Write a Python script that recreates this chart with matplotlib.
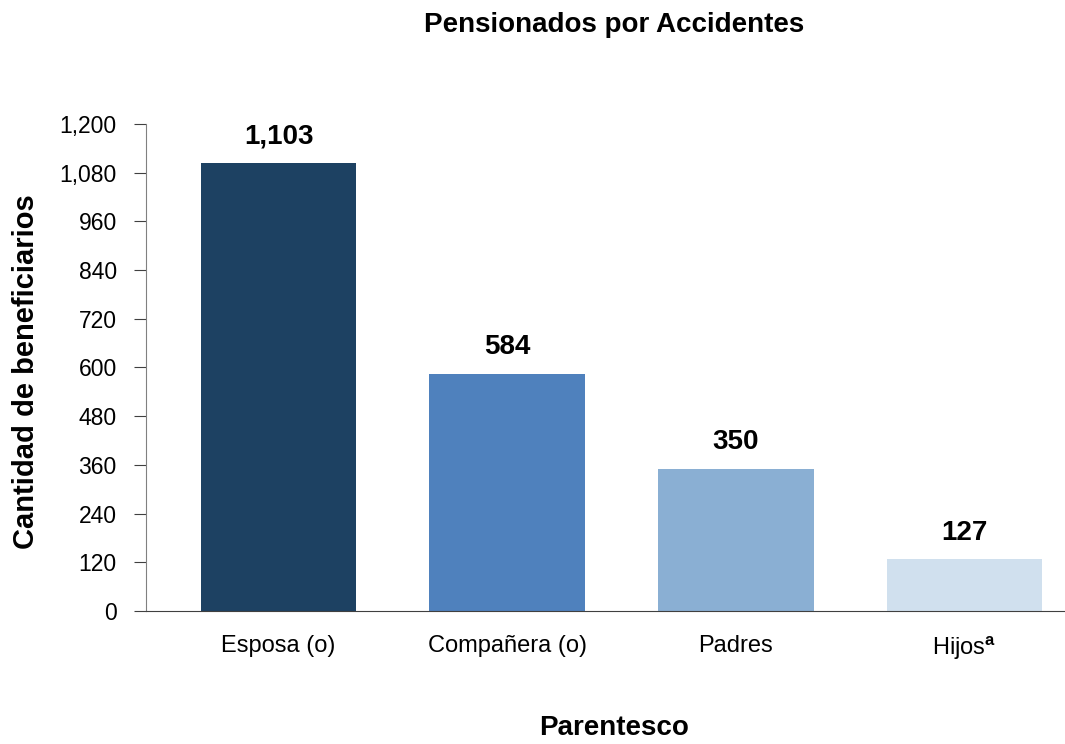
import matplotlib
matplotlib.use('Agg')
import matplotlib.pyplot as plt
import matplotlib.ticker as ticker

plt.rcParams['font.family'] = ['Liberation Sans', 'DejaVu Sans']
plt.rcParams['mathtext.fontset'] = 'custom'
plt.rcParams['mathtext.rm'] = 'Liberation Sans'
plt.rcParams['mathtext.bf'] = 'Liberation Sans:bold'

categorias = ['Esposa (o)', 'Compañera (o)', 'Padres', 'Hijos$^{\\mathbf{a}}$']
beneficiarios = [1103, 584, 350, 127]
etiquetas = ['1,103', '584', '350', '127']
colores = ['#1d4162', '#4f81bd', '#8aafd3', '#d0e0ee']

fig = plt.figure(figsize=(10.65, 7.44), dpi=100)
ax = fig.add_axes([0.137, 0.1788, 0.863, 0.6546])

x = list(range(len(categorias)))
ax.bar(x, beneficiarios, width=0.68, color=colores)

# etiquetas de valor sobre cada barra
for xi, v, t in zip(x, beneficiarios, etiquetas):
    ax.annotate(t, (xi, v), xytext=(0, 10), textcoords='offset points',
                ha='center', va='bottom', fontsize=20, fontweight='bold')

ax.set_xlim(-0.58, 3.44)
ax.set_ylim(0, 1200)
ax.yaxis.set_major_locator(ticker.MultipleLocator(120))
ax.yaxis.set_major_formatter(ticker.FuncFormatter(lambda v, p: f'{int(v):,}'))
ax.set_xticks(x)
ax.set_xticklabels(categorias)

ax.spines['top'].set_visible(False)
ax.spines['right'].set_visible(False)
ax.spines['left'].set_color('#808080')
ax.spines['bottom'].set_color('#404040')
ax.tick_params(axis='y', length=9, color='#404040', labelsize=16.5, pad=12)
ax.tick_params(axis='x', length=0, labelsize=17, pad=17)

fig.text(0.577, 0.966, 'Pensionados por Accidentes', ha='center', va='center',
         fontsize=20, fontweight='bold')
fig.text(0.577, 0.022, 'Parentesco', ha='center', va='center',
         fontsize=20, fontweight='bold')
fig.text(0.024, 0.5, 'Cantidad de beneficiarios', ha='center', va='center',
         rotation=90, fontsize=21, fontweight='bold')

fig.savefig('out.png', dpi=100)
